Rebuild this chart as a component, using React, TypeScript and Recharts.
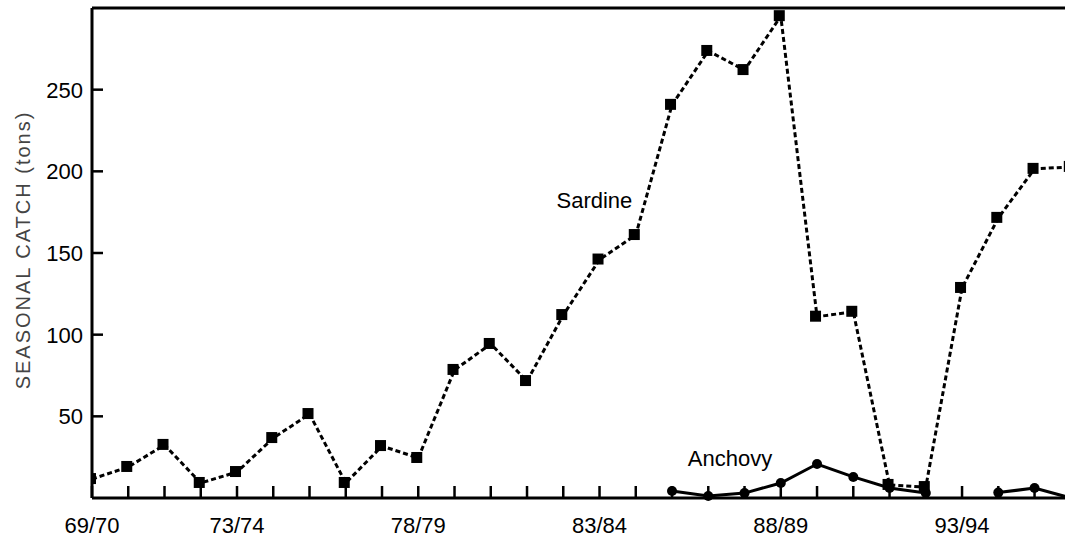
import { LineChart, Line, XAxis, YAxis, ReferenceLine, ReferenceDot } from "recharts";

const seasons = [
  "69/70", "70/71", "71/72", "72/73", "73/74", "74/75", "75/76", "76/77", "77/78", "78/79",
  "79/80", "80/81", "81/82", "82/83", "83/84", "84/85", "85/86", "86/87", "87/88", "88/89",
  "89/90", "90/91", "91/92", "92/93", "93/94", "94/95", "95/96", "96/97",
];
const labelledSeasons = ["69/70", "73/74", "78/79", "83/84", "88/89", "93/94"];
const sardine = [
  11.6, 19, 32.5, 9.2, 15.9, 36.7, 51.4, 9.2, 31.8, 24.5,
  78.4, 94.3, 71.6, 112, 146, 161, 240.7, 273.7, 262, 295,
  111, 114, 8, 6.7, 128.6, 171.5, 201.5, 202.7,
];
const anchovy: (number | null)[] = [
  null, null, null, null, null, null, null, null, null, null,
  null, null, null, null, null, null, 4.3, 1.2, 3, 9.2,
  20.8, 12.9, 6.1, 3.1, null, 3.3, 6.1, 0,
];
const yTicks = [50, 100, 150, 200, 250];

const data = seasons.map((season, i) => ({
  i,
  season,
  sardine: sardine[i],
  anchovy: anchovy[i],
}));
const xTicks = seasons.slice(0, 27).map((_, i) => i);

const FONT = "'Liberation Sans', Arial, Helvetica, sans-serif";

const XTick = (props: any) => {
  const { x, y, payload } = props;
  const s = seasons[payload.value];
  return (
    <g>
      <line x1={x} x2={x} y1={y} y2={y - 12} stroke="#000" strokeWidth={2.5} />
      {labelledSeasons.includes(s) && (
        <text x={x} y={y + 35} textAnchor="middle" fontSize={22} fontFamily={FONT} fill="#000">
          {s}
        </text>
      )}
    </g>
  );
};

const YTick = (props: any) => {
  const { x, y, payload } = props;
  return (
    <g>
      <line x1={x} x2={x + 11} y1={y} y2={y} stroke="#000" strokeWidth={2.5} />
      <text x={x - 9} y={y + 8} textAnchor="end" fontSize={22} fontFamily={FONT} fill="#000">
        {payload.value}
      </text>
    </g>
  );
};

const SquareDot = (props: any) => {
  const { cx, cy, index } = props;
  if (cx == null || cy == null) return <g key={index} />;
  return <rect key={index} x={cx - 7} y={cy - 6} width={11} height={11} fill="#000" />;
};

const CircleDot = (props: any) => {
  const { cx, cy, index, value } = props;
  if (cx == null || cy == null || value == null) return <g key={index} />;
  return <circle key={index} cx={cx} cy={cy} r={5} fill="#000" />;
};

export default function App() {
  return (
    <div style={{ position: "absolute", left: 0, top: 0, background: "#fff" }}>
      <LineChart width={1065} height={540} data={data} margin={{ top: 8, right: 0, bottom: 0, left: 0 }}>
        <XAxis
          dataKey="i"
          type="number"
          domain={[0, 26.84]}
          allowDataOverflow
          ticks={xTicks}
          interval={0}
          tickSize={0}
          tickMargin={0}
          tick={<XTick />}
          axisLine={{ stroke: "#000", strokeWidth: 3 }}
          height={42}
        />
        <YAxis
          type="number"
          domain={[0, 300]}
          ticks={yTicks}
          interval={0}
          tickSize={0}
          tickMargin={0}
          tick={<YTick />}
          axisLine={{ stroke: "#000", strokeWidth: 3 }}
          width={92}
          label={{
            content: () => (
              <text
                x={23}
                y={250}
                transform="rotate(-90 23 250)"
                textAnchor="middle"
                dominantBaseline="central"
                fontSize={20}
                fontFamily={FONT}
                fill="#444"
                letterSpacing={2}
              >
                SEASONAL CATCH (tons)
              </text>
            ),
          }}
        />
        <ReferenceLine y={300} stroke="#000" strokeWidth={3} />
        <Line
          dataKey="sardine"
          stroke="#000"
          strokeWidth={3}
          strokeDasharray="5 3"
          dot={<SquareDot />}
          activeDot={false}
          isAnimationActive={false}
        />
        <Line
          dataKey="anchovy"
          stroke="#000"
          strokeWidth={3}
          dot={<CircleDot />}
          activeDot={false}
          connectNulls={false}
          isAnimationActive={false}
        />
        <ReferenceDot
          x={13.86}
          y={182.5}
          r={0}
          stroke="none"
          label={{ value: "Sardine", position: "center", fontSize: 22, fontFamily: FONT, fill: "#000" }}
        />
        <ReferenceDot
          x={17.6}
          y={24.5}
          r={0}
          stroke="none"
          label={{ value: "Anchovy", position: "center", fontSize: 22, fontFamily: FONT, fill: "#000" }}
        />
      </LineChart>
    </div>
  );
}
